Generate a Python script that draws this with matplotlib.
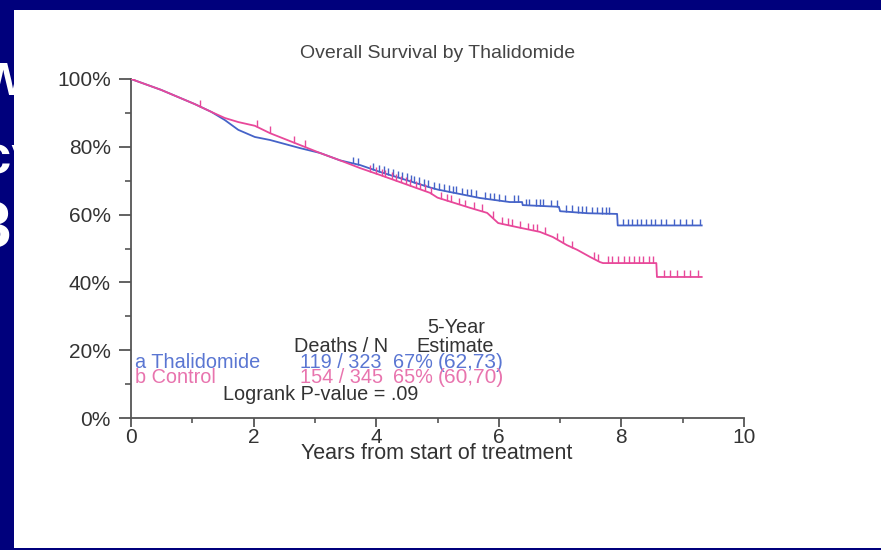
import numpy as np
import matplotlib.pyplot as plt
from matplotlib.patches import Rectangle

plt.rcParams['font.family'] = ['Liberation Sans', 'DejaVu Sans']

# Kaplan-Meier estimates: years from start of treatment vs. percent alive
thal_years = [0.0, 0.49, 1.04, 1.31, 1.53, 1.75, 2.02, 2.27, 2.76, 3.08, 3.41, 3.74,
              4.06, 4.88, 5.0, 5.69, 6.18, 6.38, 6.39, 6.98, 7.0, 7.45, 7.93, 7.94, 9.31]
thal_surv = [100, 96.8, 92.6, 90.3, 87.9, 85.0, 82.9, 82.0, 79.6, 78.2, 76.0, 74.6,
             72.6, 68.0, 67.4, 64.9, 63.7, 63.7, 62.8, 62.3, 61.0, 60.4, 60.2, 56.8, 56.8]

ctrl_years = [0.0, 0.49, 1.04, 1.31, 1.53, 1.75, 2.02, 2.27, 2.76, 3.08, 3.41, 3.74,
              4.06, 4.88, 5.0, 5.53, 5.81, 5.99, 6.3, 6.67, 6.88, 7.11, 7.28, 7.49,
              7.65, 7.70, 8.57, 8.58, 9.31]
ctrl_surv = [100, 96.8, 92.6, 90.3, 88.5, 87.3, 86.2, 84.0, 80.5, 78.2, 76.0, 73.7,
             71.7, 66.4, 65.0, 62.0, 60.5, 57.5, 56.3, 54.9, 53.4, 51.0, 49.6, 47.5,
             46.0, 45.7, 45.7, 41.6, 41.6]

# censored observations
thal_censor = [3.62, 3.70, 3.95, 4.05, 4.12, 4.2, 4.28, 4.35, 4.42, 4.5, 4.56, 4.62,
               4.7, 4.78, 4.85, 4.95, 5.02, 5.1, 5.18, 5.25, 5.3, 5.4, 5.48, 5.55,
               5.62, 5.78, 5.85, 5.92, 6.0, 6.1, 6.25, 6.32, 6.45, 6.5, 6.6, 6.68,
               6.72, 6.85, 6.95, 7.1, 7.2, 7.3, 7.35, 7.42, 7.52, 7.6, 7.68, 7.75,
               7.8, 8.02, 8.1, 8.18, 8.25, 8.32, 8.4, 8.48, 8.55, 8.65, 8.72, 8.85,
               8.95, 9.05, 9.15, 9.28]
ctrl_censor = [0.05, 1.13, 2.05, 2.27, 2.66, 2.84, 3.9, 4.0, 4.1, 4.15, 4.25, 4.32,
               4.4, 4.48, 4.55, 4.65, 4.72, 4.8, 4.9, 5.05, 5.15, 5.22, 5.35, 5.45,
               5.6, 5.72, 5.9, 6.05, 6.15, 6.22, 6.35, 6.48, 6.55, 6.62, 6.75, 6.95,
               7.05, 7.2, 7.55, 7.62, 7.78, 7.85, 7.95, 8.05, 8.12, 8.2, 8.28, 8.35,
               8.45, 8.52, 8.7, 8.8, 8.9, 9.02, 9.12, 9.25]

year_ticks = [0, 2, 4, 6, 8, 10]
pct_ticks = [0, 20, 40, 60, 80, 100]
pct_labels = ['0%', '20%', '40%', '60%', '80%', '100%']

blue = '#4563c8'
pink = '#e8489a'
blue_txt = '#5a76d2'
pink_txt = '#e874ae'
grey = '#555555'
navy = '#00007c'

fig = plt.figure(figsize=(8.81, 5.5), dpi=100, facecolor=navy)

# slide title peeking out behind the white panel
fig.text(-0.022, 0.828, 'W', color='white', fontsize=34, fontweight='bold',
         ha='left', va='baseline', zorder=-3)
fig.text(-0.02, 0.685, 'cy', color='white', fontsize=38, fontweight='bold',
         ha='left', va='baseline', zorder=-3)
fig.text(-0.028, 0.55, '3', color='white', fontsize=46, fontweight='bold',
         ha='left', va='baseline', zorder=-3)
fig.patches.append(Rectangle((14 / 881, 2 / 550), 1, 538 / 550, transform=fig.transFigure,
                             facecolor='white', edgecolor='none', zorder=-1))

ax = fig.add_axes([131 / 881, 132 / 550, 613 / 881, 339 / 550])
ax.set_facecolor('none')
ax.set_xlim(0, 10)
ax.set_ylim(0, 100)

ax.plot(thal_years, thal_surv, color=blue, lw=1.3, zorder=3)
ax.plot(ctrl_years, ctrl_surv, color=pink, lw=1.3, zorder=3)

for cens, yrs, surv, col in [(thal_censor, thal_years, thal_surv, blue),
                             (ctrl_censor, ctrl_years, ctrl_surv, pink)]:
    s = np.interp(cens, yrs, surv)
    ax.vlines(cens, s, s + 2.0, color=col, lw=1.0, zorder=3)

for side in ['top', 'right']:
    ax.spines[side].set_visible(False)
for side in ['left', 'bottom']:
    ax.spines[side].set_color(grey)
    ax.spines[side].set_linewidth(1.3)

ax.set_xticks(year_ticks)
ax.set_xticks(np.arange(1, 10, 2), minor=True)
ax.set_yticks(pct_ticks)
ax.set_yticklabels(pct_labels)
ax.set_yticks(np.arange(10, 100, 20), minor=True)
ax.tick_params(axis='x', which='major', length=6.5, width=1.3, color=grey,
               labelsize=15, labelcolor='#333333', pad=0.5)
ax.tick_params(axis='x', which='minor', length=3.6, width=1.2, color=grey)
ax.tick_params(axis='y', which='major', length=8.5, width=1.3, color=grey,
               labelsize=15, labelcolor='#333333', pad=6)
ax.tick_params(axis='y', which='minor', length=4.3, width=1.2, color=grey)

ax.text(5.0, 106.2, 'Overall Survival by Thalidomide', ha='center', va='baseline',
        fontsize=14, color='#444444', clip_on=False)
ax.text(4.99, -12.1, 'Years from start of treatment', ha='center', va='baseline',
        fontsize=15.5, color='#333333', clip_on=False)

# summary table
hdr = dict(fontsize=14.3, color='#333333', va='baseline')
ax.text(5.30, 25.1, '5-Year', ha='center', **hdr)
ax.text(3.43, 19.5, 'Deaths / N', ha='center', **hdr)
ax.text(5.29, 19.5, 'Estimate', ha='center', **hdr)

rows = [('a Thalidomide', '119 / 323', '67%', '(62,73)', blue_txt, 14.7),
        ('b Control', '154 / 345', '65%', '(60,70)', pink_txt, 10.3)]
for name, dn, est, ci, col, yy in rows:
    ax.text(0.07, yy, name, color=col, fontsize=14.3, va='baseline')
    ax.text(2.76, yy, dn, color=col, fontsize=14.3, va='baseline')
    ax.text(4.27, yy, est, color=col, fontsize=14.3, va='baseline')
    ax.text(5.0, yy, ci, color=col, fontsize=15, va='baseline')
ax.text(1.50, 5.3, 'Logrank P-value = .09', **hdr)

fig.savefig('out.png', dpi=100, facecolor=navy)
